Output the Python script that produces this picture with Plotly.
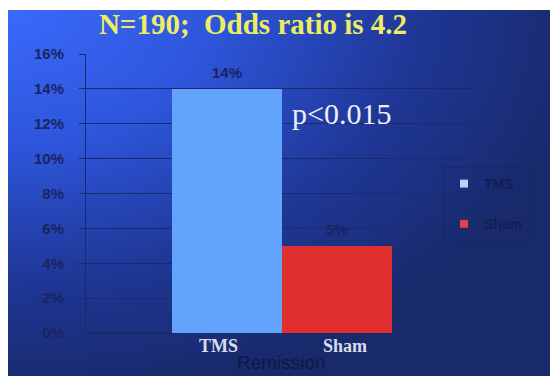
import base64
import plotly.graph_objects as go

# ---- data ----
categories = ["TMS", "Sham"]
values = [14, 5]
bar_labels = ["14%", "5%"]
y_ticks = [0, 2, 4, 6, 8, 10, 12, 14, 16]
y_tick_labels = ["0%", "2%", "4%", "6%", "8%", "10%", "12%", "14%", "16%"]
colors = ["#62a3fb", "#df2f2f"]
legend_colors = ["#b8d0fa", "#e04040"]
title_text = "N=190;\u00a0\u00a0Odds ratio is 4.2"
pvalue_text = "p<0.015"
axis_title = "Remission"

# page offset from the default body margin
OFF = 8
W, H = 550, 368
PL, PR, PT, PB = 86, 477, 54, 333          # plot area in page pixels
L, R, T, B = PL - OFF, W - (PR - OFF), PT - OFF, H - (PB - OFF)
pw, ph = W - L - R, H - T - B


def px(xp):
    return (xp - PL) / pw


def py(yp):
    return (PB - yp) / ph


svg = (
    "<svg xmlns='http://www.w3.org/2000/svg' width='550' height='366' viewBox='0 0 550 366' preserveAspectRatio='none'>"
    "<defs><radialGradient id='g' cx='0' cy='0' r='1.05' gradientUnits='objectBoundingBox'>"
    "<stop offset='0' stop-color='#3b69fb'/><stop offset='0.35' stop-color='#2e56dc'/>"
    "<stop offset='0.7' stop-color='#1f3796'/><stop offset='1' stop-color='#182a6c'/>"
    "</radialGradient></defs><rect width='550' height='366' fill='url(#g)'/></svg>"
)
bg_uri = "data:image/svg+xml;base64," + base64.b64encode(svg.encode()).decode()

NAVY = "#141d55"
label_font = dict(family="Liberation Sans, Arial", size=15, color="#1a2462")
cat_font = dict(family="Liberation Serif, Times New Roman", size=18, color="#d8dcec")
cat_shift = [-8, 8]

fig = go.Figure()
annotations = []
for i, (cat, val, lab, col, lcol) in enumerate(zip(categories, values, bar_labels, colors, legend_colors)):
    fig.add_trace(go.Bar(
        x=[i], y=[val], width=1, name=cat, marker_color=col, marker_line_width=0,
        showlegend=False, hoverinfo="x+y",
    ))
    # legend entry with a small square swatch
    fig.add_trace(go.Scatter(
        x=[None], y=[None], mode="markers", name="<b>" + cat + "</b>",
        marker=dict(symbol="square", size=8, color=lcol), legendgroup=cat,
    ))
    annotations.append(dict(
        x=i, y=val, xref="x", yref="y", text="<b>" + lab + "</b>", showarrow=False,
        yanchor="middle", yshift=16, font=label_font,
    ))
    # category label under the bar
    annotations.append(dict(
        x=i, y=0, xref="x", yref="paper", text="<b>" + cat + "</b>", showarrow=False,
        yanchor="middle", yshift=-13, xshift=cat_shift[i], font=cat_font,
    ))

unit = 110.0
center = 0.5
x0 = center - (pw / 2) / unit
x1 = center + (pw / 2) / unit

annotations += [
    dict(text=pvalue_text, xref="paper", yref="paper",
         x=px(341), y=py(113), showarrow=False,
         xanchor="center", yanchor="middle",
         font=dict(family="Liberation Serif, Times New Roman", size=30, color="#eef0fa")),
    dict(text=axis_title, xref="paper", yref="paper",
         x=0.5, y=py(362), showarrow=False,
         xanchor="center", yanchor="middle",
         font=dict(family="Liberation Sans, Arial", size=19, color="#0f1848")),
]

fig.update_layout(
    width=W, height=H,
    margin=dict(l=L, r=R, t=T, b=B),
    paper_bgcolor="white", plot_bgcolor="rgba(0,0,0,0)",
    bargap=0, barmode="overlay",
    showlegend=True,
    legend=dict(
        x=px(443), y=py(167), xanchor="left", yanchor="top",
        font=dict(family="Liberation Sans, Arial", size=14, color=NAVY),
        bgcolor="rgba(0,0,0,0)", bordercolor="rgba(20,30,90,0.35)", borderwidth=1,
        tracegroupgap=19, itemwidth=30,
    ),
    title=dict(
        text="<b>" + title_text + "</b>", x=(253 - OFF) / W, xanchor="center",
        y=1 - (24 - OFF) / H, yanchor="middle",
        font=dict(family="Liberation Serif, Times New Roman", size=29, color="#eded62"),
    ),
    xaxis=dict(
        range=[x0, x1], showticklabels=False,
        showgrid=False, zeroline=False, showline=False, ticks="",
        fixedrange=True,
    ),
    yaxis=dict(
        range=[0, 16], tickvals=y_ticks, ticktext=["<b>" + t + "</b>" for t in y_tick_labels],
        showgrid=True, gridcolor="#1a2a6c", gridwidth=1,
        zeroline=True, zerolinecolor="#1a2a6c",
        showline=True, linecolor="#1a2a6c", linewidth=1,
        ticks="outside", ticklen=6, tickcolor="#1a2a6c",
        tickfont=dict(family="Liberation Sans, Arial", size=15, color="#1a2462"),
        ticklabelstandoff=12,
        fixedrange=True,
    ),
    images=[dict(
        source=bg_uri, xref="paper", yref="paper",
        x=px(OFF), y=py(10),
        sizex=550 / pw, sizey=366 / ph,
        sizing="stretch", layer="below", xanchor="left", yanchor="top",
    )],
    annotations=annotations,
)

fig.write_html("out.html")
